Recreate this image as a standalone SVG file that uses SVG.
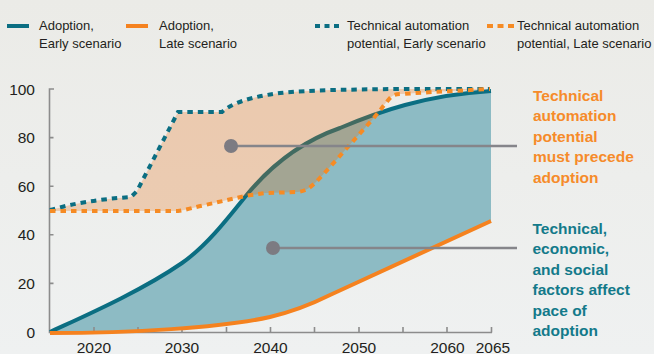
<svg xmlns="http://www.w3.org/2000/svg" width="654" height="354" viewBox="0 0 654 354">
<defs>
<linearGradient id="bg" x1="0" y1="0" x2="0" y2="1">
<stop offset="0" stop-color="#EBEBE7"/>
<stop offset="1" stop-color="#EFF1F1"/>
</linearGradient>
</defs>
<style>
.lg{font-family:"Liberation Sans",Arial,sans-serif;font-size:13px;fill:#231F20}
.ax{font-family:"Liberation Sans",Arial,sans-serif;font-size:15.5px;fill:#231F20}
.ann{font-family:"Liberation Sans",Arial,sans-serif;font-size:15.5px;font-weight:bold}
.axis{stroke:#8C8C8C;stroke-width:1.6;fill:none}
.solid{fill:none;stroke-width:4;stroke-linecap:butt;stroke-linejoin:round}
.dot{fill:none;stroke-width:4;stroke-dasharray:5.5 5}
.teal{stroke:#0B6E82}
.orange{stroke:#F5821F}
.odot{stroke:#F68B24}
.conn{stroke:#85858A;stroke-width:2.5;fill:none}
.pin{fill:#7C7B82}
</style>
<rect x="0" y="0" width="654" height="354" fill="url(#bg)"/>

<g id="legend">
<line class="solid teal" x1="7" y1="26" x2="29" y2="26"/>
<text class="lg" x="39" y="30">Adoption,</text>
<text class="lg" x="39" y="48">Early scenario</text>
<line class="solid orange" x1="126" y1="26" x2="148" y2="26"/>
<text class="lg" x="159" y="30">Adoption,</text>
<text class="lg" x="159" y="48">Late scenario</text>
<line class="dot teal" x1="315" y1="26" x2="343" y2="26" style="stroke-dasharray:5 4.5"/>
<text class="lg" x="347" y="30">Technical automation</text>
<text class="lg" x="347" y="48">potential, Early scenario</text>
<line class="dot odot" x1="487" y1="26" x2="514" y2="26" style="stroke-dasharray:6 4.5"/>
<text class="lg" x="517" y="30">Technical automation</text>
<text class="lg" x="517" y="48">potential, Late scenario</text>
</g>

<g id="adoption-area">
<path d="M50,332 C80,318 140,292 182,263 C205,247 225,222 245,197 C270,166 300,142 340,128 C378,112 425,95 491,91 L491,221 L330,295 C312,304 295,311 270,317 C220,328 130,333 50,333 Z" fill="#8DBBC4"/>
</g>

<g id="axes">
<path class="axis" d="M54,89 H49.5 V332.5 H492"/>
<path class="axis" d="M49.5,137.6 H53.5 M49.5,186.2 H53.5 M49.5,234.8 H53.5 M49.5,283.4 H53.5"/>
<path class="axis" d="M94,327 V332.5 M138,327 V332.5 M182,327 V332.5 M226.5,327 V332.5 M270.5,327 V332.5 M314.5,327 V332.5 M359,327 V332.5 M403,327 V332.5 M447,327 V332.5 M491.5,327 V332.5"/>
<text class="ax" x="35" y="94.5" text-anchor="end">100</text>
<text class="ax" x="35" y="143" text-anchor="end">80</text>
<text class="ax" x="35" y="191.7" text-anchor="end">60</text>
<text class="ax" x="35" y="240.3" text-anchor="end">40</text>
<text class="ax" x="35" y="288.9" text-anchor="end">20</text>
<text class="ax" x="35" y="337.5" text-anchor="end">0</text>
<text class="ax" x="94" y="352.5" text-anchor="middle">2020</text>
<text class="ax" x="182" y="352.5" text-anchor="middle">2030</text>
<text class="ax" x="270.5" y="352.5" text-anchor="middle">2040</text>
<text class="ax" x="359" y="352.5" text-anchor="middle">2050</text>
<text class="ax" x="447.5" y="352.5" text-anchor="middle">2060</text>
<text class="ax" x="493" y="352.5" text-anchor="middle">2065</text>
</g>

<g id="adoption-lines">
<path class="solid teal" d="M50,332 C80,318 140,292 182,263 C205,247 225,222 245,197 C270,166 300,142 340,128 C378,112 425,95 491,91"/>
<path class="solid orange" d="M50,333 C130,333 220,328 270,317 C295,311 312,304 330,295 L491,221"/>
</g>

<g id="potential-area">
<path d="M50,210 Q85,200 131,197 L137,191 L178,112 L222,112 C232,103 250,97 280,93 C310,90 350,89.5 400,89 L490,89 L432,92 L402,94 C397,94 394,94.5 391,97 C386,102 380,111 372,120 C345,150 325,173 316,182 C311,187 306,191 298,192 L265,193 L245,196 L205,205 C195,207 186,210 178,211 L50,211 Z" fill="#E86400" fill-opacity="0.25"/>
</g>

<g id="potential-lines">
<path class="dot teal" d="M50,210 Q85,200 131,197 L137,191 L178,112 L222,112 C232,103 250,97 280,93 C310,90 350,89.5 400,89 L490,89"/>
<path class="dot odot" d="M50,211 L178,211 C186,210 195,207 205,205 L245,196 L265,193 L298,192 C306,191 311,187 316,182 C325,173 345,150 372,120 C380,111 386,102 391,97 C394,94.5 397,94 402,94 L432,92 L490,89"/>
</g>

<g id="connectors">
<line class="conn" x1="231" y1="146" x2="517" y2="146"/>
<line class="conn" x1="273" y1="248" x2="517" y2="248"/>
</g>

<g id="callout-precede">
<circle class="pin" cx="231" cy="146" r="7"/>
<text class="ann" fill="#F68B2A">
<tspan x="533" y="100.5">Technical</tspan>
<tspan x="533" y="121">automation</tspan>
<tspan x="533" y="141.5">potential</tspan>
<tspan x="533" y="162">must precede</tspan>
<tspan x="533" y="182.5">adoption</tspan>
</text>
</g>

<g id="callout-pace">
<circle class="pin" cx="273" cy="248" r="7"/>
<text class="ann" fill="#137A8A">
<tspan x="532.5" y="233.5">Technical,</tspan>
<tspan x="532.5" y="254">economic,</tspan>
<tspan x="532.5" y="274.5">and social</tspan>
<tspan x="532.5" y="295">factors affect</tspan>
<tspan x="532.5" y="315.5">pace of</tspan>
<tspan x="532.5" y="336">adoption</tspan>
</text>
</g>
</svg>
